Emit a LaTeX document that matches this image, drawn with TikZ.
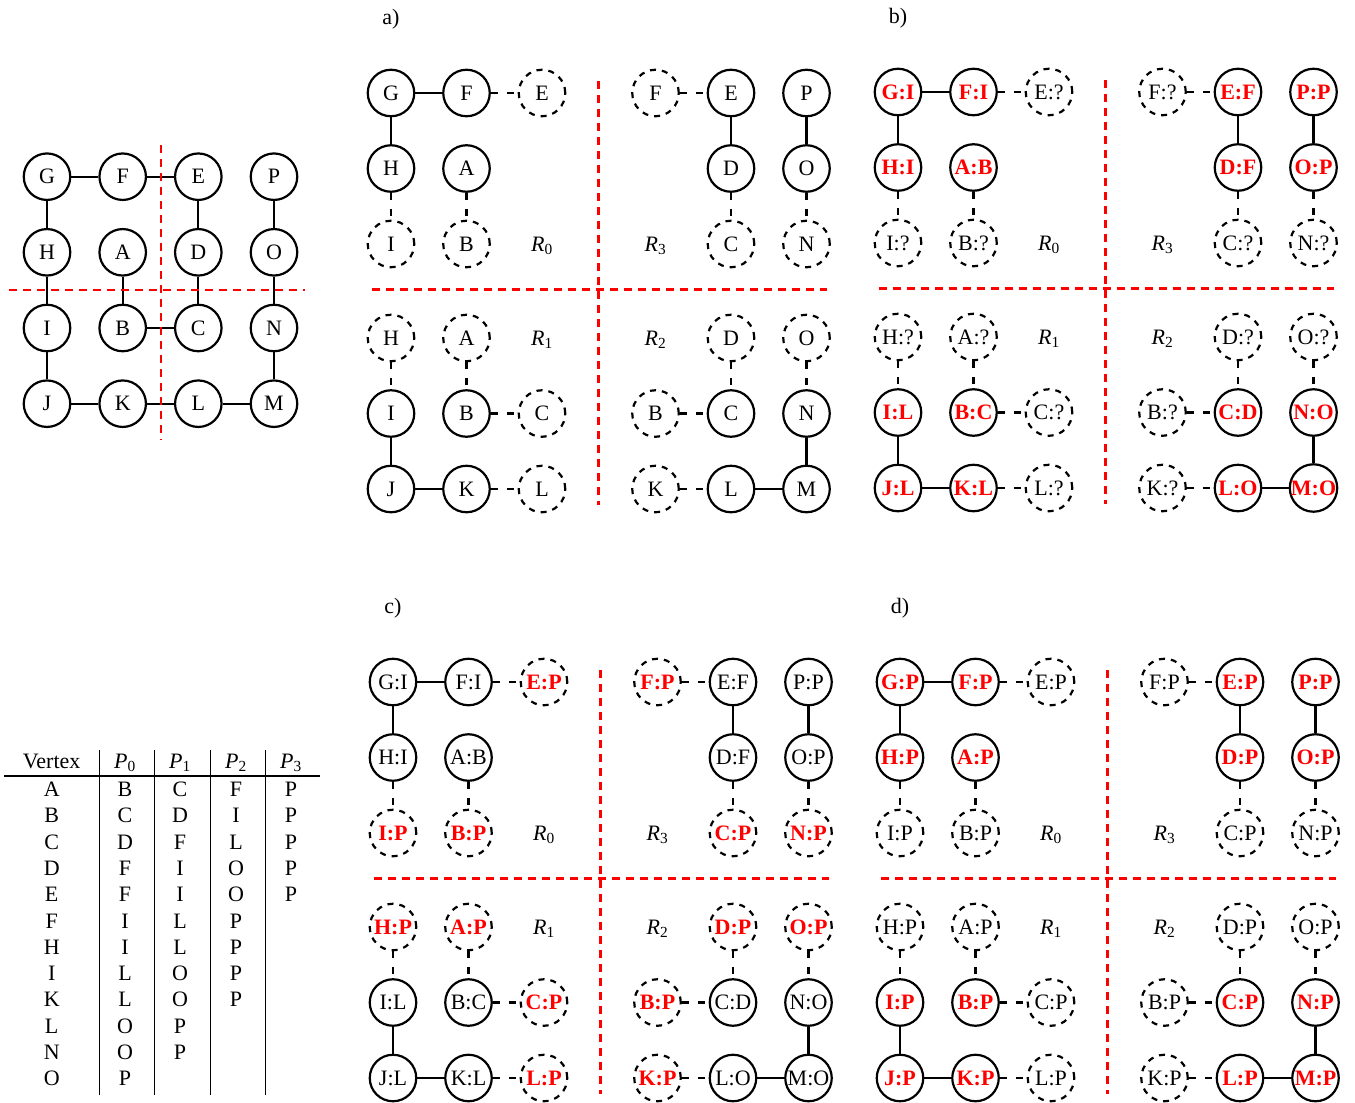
\documentclass[tikz,border=0pt]{standalone}
\usepackage{fontspec}
\setmainfont{Liberation Serif}
\newcommand{\vfont}{\fontsize{22}{26}\selectfont}
\tikzset{
    vtx/.style={circle, draw, line width=2.2pt, minimum size=46.5pt, inner sep=0pt, font=\vfont},
    ghost/.style={vtx, dash pattern=on 6pt off 6pt},
    hot/.style={text=red, font=\vfont\bfseries},
    hvtx/.style={vtx, hot},
    hghost/.style={ghost, hot},
    link/.style={line width=2.2pt},
    glink/.style={link, dash pattern=on 7pt off 9pt},
    cutline/.style={red, line width=2.6pt, dash pattern=on 8pt off 6pt},
    lbl/.style={font=\vfont, inner sep=0pt},
}

\begin{document}
\begin{tikzpicture}[x=1pt, y=-1pt]
    \useasboundingbox (0,0) rectangle (1355,1103);

    % Whole graph (left)
    \foreach \n/\x/\y in {G/47/176.7, F/122.7/176.7, E/198.3/176.7, P/274/176.7,
                          H/47/252.3, A/122.7/252.3, D/198.3/252.3, O/274/252.3,
                          I/47/328, B/122.7/328, C/198.3/328, N/274/328,
                          J/47/403.7, K/122.7/403.7, L/198.3/403.7, M/274/403.7}
        \node[vtx] (g\n) at (\x,\y) {\n};
    \foreach \u/\v in {G/F, F/E, E/D, P/O, G/H, H/I, A/B, D/C, O/N, I/J, B/C, N/M, J/K, K/L, L/M}
        \draw[link] (g\u) -- (g\v);
    \draw[cutline] (161,145) -- (161,440);
    \draw[cutline] (9,290) -- (305,290);

    % Four panels: grid positions, cuts and region labels
    \foreach \p/\ox/\oy in {a/391/93, b/898/92, c/393/682, d/900/682} {
        \begin{scope}[shift={(\ox,\oy)}]
            \foreach \id/\x/\y in {G0/0/0, F0/75.5/0, E0/151/0, H0/0/75.5, A0/75.5/75.5, I0/0/151, B0/75.5/151,
                                   F3/264.5/0, E3/340/0, P3/415.5/0, D3/340/75.5, O3/415.5/75.5, C3/340/151, N3/415.5/151,
                                   H1/0/245, A1/75.5/245, I1/0/320.5, B1/75.5/320.5, C1/151/320.5, J1/0/396, K1/75.5/396, L1/151/396,
                                   D2/340/245, O2/415.5/245, B2/264.5/320.5, C2/340/320.5, N2/415.5/320.5, K2/264.5/396, L2/340/396, M2/415.5/396}
                \coordinate (\p-\id) at (\x,\y);
            \draw[cutline] (207.7,-12) -- (207.7,411.5);
            \draw[cutline] (-19.5,196.3) -- (435.5,196.3);
            \node[lbl, anchor=base] (\p-R0) at (151,158) {\textit{R}\textsubscript{0}};
            \node[lbl, anchor=base] (\p-R3) at (264.5,158) {\textit{R}\textsubscript{3}};
            \node[lbl, anchor=base] (\p-R1) at (151,252) {\textit{R}\textsubscript{1}};
            \node[lbl, anchor=base] (\p-R2) at (264.5,252) {\textit{R}\textsubscript{2}};
            \node[lbl, anchor=base] (\p-tag) at (0,-68.5) {\p)};
        \end{scope}
    }

    % a) partitioned graph
    \foreach \id/\k/\t in {G0/vtx/G, F0/vtx/F, E0/ghost/E, H0/vtx/H, A0/vtx/A, I0/ghost/I, B0/ghost/B,
                           F3/ghost/F, E3/vtx/E, P3/vtx/P, D3/vtx/D, O3/vtx/O, C3/ghost/C, N3/ghost/N,
                           H1/ghost/H, A1/ghost/A, I1/vtx/I, B1/vtx/B, C1/ghost/C, J1/vtx/J, K1/vtx/K, L1/ghost/L,
                           D2/ghost/D, O2/ghost/O, B2/ghost/B, C2/vtx/C, N2/vtx/N, K2/ghost/K, L2/vtx/L, M2/vtx/M}
        \node[\k] (a\id) at (a-\id) {\t};

    % b) first round
    \foreach \id/\k/\t in {G0/hvtx/G:I, F0/hvtx/F:I, E0/ghost/E:?, H0/hvtx/H:I, A0/hvtx/A:B, I0/ghost/I:?, B0/ghost/B:?,
                           F3/ghost/F:?, E3/hvtx/E:F, P3/hvtx/P:P, D3/hvtx/D:F, O3/hvtx/O:P, C3/ghost/C:?, N3/ghost/N:?,
                           H1/ghost/H:?, A1/ghost/A:?, I1/hvtx/I:L, B1/hvtx/B:C, C1/ghost/C:?, J1/hvtx/J:L, K1/hvtx/K:L, L1/ghost/L:?,
                           D2/ghost/D:?, O2/ghost/O:?, B2/ghost/B:?, C2/hvtx/C:D, N2/hvtx/N:O, K2/ghost/K:?, L2/hvtx/L:O, M2/hvtx/M:O}
        \node[\k] (b\id) at (b-\id) {\t};

    % c) exchange of ghost values
    \foreach \id/\k/\t in {G0/vtx/G:I, F0/vtx/F:I, E0/hghost/E:P, H0/vtx/H:I, A0/vtx/A:B, I0/hghost/I:P, B0/hghost/B:P,
                           F3/hghost/F:P, E3/vtx/E:F, P3/vtx/P:P, D3/vtx/D:F, O3/vtx/O:P, C3/hghost/C:P, N3/hghost/N:P,
                           H1/hghost/H:P, A1/hghost/A:P, I1/vtx/I:L, B1/vtx/B:C, C1/hghost/C:P, J1/vtx/J:L, K1/vtx/K:L, L1/hghost/L:P,
                           D2/hghost/D:P, O2/hghost/O:P, B2/hghost/B:P, C2/vtx/C:D, N2/vtx/N:O, K2/hghost/K:P, L2/vtx/L:O, M2/vtx/M:O}
        \node[\k] (c\id) at (c-\id) {\t};

    % d) final round
    \foreach \id/\k/\t in {G0/hvtx/G:P, F0/hvtx/F:P, E0/ghost/E:P, H0/hvtx/H:P, A0/hvtx/A:P, I0/ghost/I:P, B0/ghost/B:P,
                           F3/ghost/F:P, E3/hvtx/E:P, P3/hvtx/P:P, D3/hvtx/D:P, O3/hvtx/O:P, C3/ghost/C:P, N3/ghost/N:P,
                           H1/ghost/H:P, A1/ghost/A:P, I1/hvtx/I:P, B1/hvtx/B:P, C1/ghost/C:P, J1/hvtx/J:P, K1/hvtx/K:P, L1/ghost/L:P,
                           D2/ghost/D:P, O2/ghost/O:P, B2/ghost/B:P, C2/hvtx/C:P, N2/hvtx/N:P, K2/ghost/K:P, L2/hvtx/L:P, M2/hvtx/M:P}
        \node[\k] (d\id) at (d-\id) {\t};

    % edges, same in every panel
    \foreach \p in {a,b,c,d}
        \foreach \u/\v/\s in {G0/F0/link, F0/E0/glink, G0/H0/link, H0/I0/glink, A0/B0/glink,
                              F3/E3/glink, E3/D3/link, P3/O3/link, D3/C3/glink, O3/N3/glink,
                              H1/I1/glink, A1/B1/glink, I1/J1/link, B1/C1/glink, J1/K1/link, K1/L1/glink,
                              D2/C2/glink, O2/N2/glink, B2/C2/glink, N2/M2/link, K2/L2/glink, L2/M2/link}
            \draw[\s] (\p\u) -- (\p\v);

    % Table of values per round
    \node[lbl, anchor=base] (hv) at (51.7,768) {Vertex};
    \foreach \i/\x in {0/125, 1/180, 2/236, 3/291}
        \node[lbl, anchor=base] (h\i) at (\x,768) {\textit{P}\textsubscript{\i}};
    \draw[line width=1.2pt] (4,776) -- (320,776);
    \foreach \x in {99, 154.5, 210, 265}
        \draw[line width=1pt] (\x,750) -- (\x,1095);
    \foreach \t [count=\i] in {A,B,C,D,E,F,H,I,K,L,N,O}
        \node[lbl, anchor=base] (v\i) at (51.7,{770.2+26.3*\i}) {\t};
    \foreach \t [count=\i] in {B,C,D,F,F,I,I,L,L,O,O,P}
        \node[lbl, anchor=base] (p0-\i) at (125,{770.2+26.3*\i}) {\t};
    \foreach \t [count=\i] in {C,D,F,I,I,L,L,O,O,P,P}
        \node[lbl, anchor=base] (p1-\i) at (180,{770.2+26.3*\i}) {\t};
    \foreach \t [count=\i] in {F,I,L,O,O,P,P,P,P}
        \node[lbl, anchor=base] (p2-\i) at (236,{770.2+26.3*\i}) {\t};
    \foreach \t [count=\i] in {P,P,P,P,P}
        \node[lbl, anchor=base] (p3-\i) at (291,{770.2+26.3*\i}) {\t};
\end{tikzpicture}
\end{document}
